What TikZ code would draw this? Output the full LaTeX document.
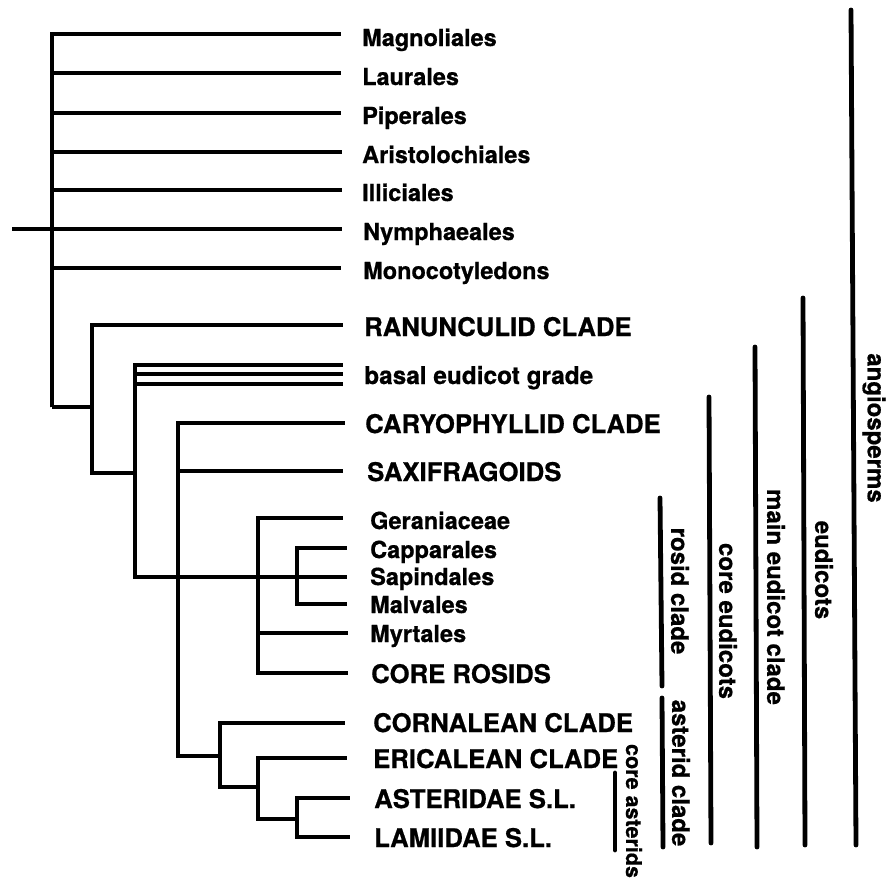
\documentclass[tikz,border=0pt]{standalone}
\usepackage{fontspec}
\setmainfont{TeX Gyre Heros}[BoldFeatures={FakeBold=0.7}]
\begin{document}
\begin{tikzpicture}[x=1pt,y=-1pt]
\tikzset{
  br/.style={line width=4pt},
  bar/.style={line width=4.8pt, line cap=round},
  lab/.style={anchor=base west, inner sep=0pt, font=\bfseries\fontsize{23.5}{24}\selectfont},
  caps/.style={anchor=base west, inner sep=0pt, font=\bfseries\fontsize{25.7}{26}\selectfont},
  rot/.style={rotate=-90, anchor=center, inner sep=0pt, font=\bfseries\fontsize{24}{24}\selectfont}
}
\useasboundingbox (0,0) rectangle (888,879);
% internal nodes
\coordinate (root) at (52,407);
\coordinate (n2) at (92,407);
\coordinate (n3) at (135,473);
\coordinate (n4) at (178,577);
\coordinate (n5) at (258,577);
\coordinate (n6) at (297,577);
\coordinate (n7) at (220,756);
\coordinate (n8) at (258,787);
\coordinate (n9) at (297,819);
% tip ends
\coordinate (magE) at (341,34);
\coordinate (laurE) at (341,73);
\coordinate (pipE) at (341,113);
\coordinate (arisE) at (342,152);
\coordinate (illE) at (342,190);
\coordinate (nymE) at (342,229);
\coordinate (nymS) at (12,229);
\coordinate (monE) at (341,268);
\coordinate (ranE) at (343,325);
\coordinate (basA) at (343,365);
\coordinate (basB) at (343,374);
\coordinate (basC) at (343,384);
\coordinate (caryE) at (345,423);
\coordinate (saxE) at (343,471);
\coordinate (gerE) at (343,518);
\coordinate (capE) at (347,548);
\coordinate (sapE) at (347,577);
\coordinate (malE) at (347,604);
\coordinate (myrE) at (348,633);
\coordinate (corE) at (348,673);
\coordinate (cornE) at (345,723);
\coordinate (ericE) at (347,758);
\coordinate (astE) at (350,798);
\coordinate (lamE) at (350,837);
% tree
\draw[br] (root) |- (magE);
\draw[br] (root) |- (laurE);
\draw[br] (root) |- (pipE);
\draw[br] (root) |- (arisE);
\draw[br] (root) |- (illE);
\draw[br] (root) |- (nymE);
\draw[br] (nymS) -- (nymE);
\draw[br] (root) |- (monE);
\draw[br] (root) -- (n2);
\draw[br] (n2) |- (ranE);
\draw[br] (n2) |- (n3);
\draw[br] (n3) |- (basA);
\draw[br] (n3) |- (basB);
\draw[br] (n3) |- (basC);
\draw[br] (n3) |- (n4);
\draw[br] (n4) |- (caryE);
\draw[br] (n4) |- (saxE);
\draw[br] (n4) -- (n5);
\draw[br] (n4) |- (n7);
\draw[br] (n5) |- (gerE);
\draw[br] (n5) -- (n6);
\draw[br] (n5) |- (myrE);
\draw[br] (n5) |- (corE);
\draw[br] (n6) |- (capE);
\draw[br] (n6) -- (sapE);
\draw[br] (n6) |- (malE);
\draw[br] (n7) |- (cornE);
\draw[br] (n7) |- (n8);
\draw[br] (n8) |- (ericE);
\draw[br] (n8) |- (n9);
\draw[br] (n9) |- (astE);
\draw[br] (n9) |- (lamE);
% tip labels
\node[lab] (Lmag) at (362,46) {Magnoliales};
\node[lab] (Llaur) at (362,85) {Laurales};
\node[lab] (Lpip) at (362,124) {Piperales};
\node[lab] (Laris) at (362,163) {Aristolochiales};
\node[lab] (Lill) at (362,201) {Illiciales};
\node[lab] (Lnym) at (363,240) {Nymphaeales};
\node[lab] (Lmon) at (363,279) {Monocotyledons};
\node[caps] (Lran) at (364,336) {RANUNCULID CLADE};
\node[lab, font=\bfseries\fontsize{24.4}{25}\selectfont] (Lbas) at (364,384) {basal eudicot grade};
\node[caps] (Lcary) at (365,433) {CARYOPHYLLID CLADE};
\node[caps] (Lsax) at (367,481) {SAXIFRAGOIDS};
\node[lab] (Lger) at (370,529) {Geraniaceae};
\node[lab] (Lcap) at (370,558) {Capparales};
\node[lab] (Lsap) at (370,585) {Sapindales};
\node[lab] (Lmal) at (370,613) {Malvales};
\node[lab] (Lmyr) at (370,642) {Myrtales};
\node[caps] (Lcor) at (371,683) {CORE ROSIDS};
\node[caps] (Lcorn) at (373,732) {CORNALEAN CLADE};
\node[caps] (Leric) at (373,768) {ERICALEAN CLADE};
\node[caps] (Last) at (374,808) {ASTERIDAE S.L.};
\node[caps] (Llam) at (374,847) {LAMIIDAE S.L.};
% bars
\coordinate (angT) at (851,10);   \coordinate (angB) at (856,845);
\coordinate (eudT) at (803,298);  \coordinate (eudB) at (805,845);
\coordinate (mecT) at (755,347);  \coordinate (mecB) at (757,847);
\coordinate (ceuT) at (709,397);  \coordinate (ceuB) at (711,843);
\coordinate (rosT) at (660,498);  \coordinate (rosB) at (662,686);
\coordinate (astT) at (662,698);  \coordinate (astB) at (663,847);
\coordinate (casT) at (615,773);  \coordinate (casB) at (615,850);
\draw[bar] (angT) -- (angB);
\draw[bar] (eudT) -- (eudB);
\draw[bar] (mecT) -- (mecB);
\draw[bar] (ceuT) -- (ceuB);
\draw[bar] (rosT) -- (rosB);
\draw[bar] (astT) -- (astB);
\draw[bar] (casT) -- (casB);
% clade labels
\node[rot] (Rang) at (874,428) {angiosperms};
\node[rot] (Reud) at (824,570) {eudicots};
\node[rot] (Rmec) at (776,597) {main eudicot clade};
\node[rot] (Rceu) at (728,621) {core eudicots};
\node[rot] (Rros) at (680,591) {rosid clade};
\node[rot] (Rast) at (681,773) {asterid clade};
\node[rot, font=\bfseries\fontsize{21.5}{22}\selectfont] (Rcas) at (634,811) {core asterids};
\end{tikzpicture}
\end{document}
